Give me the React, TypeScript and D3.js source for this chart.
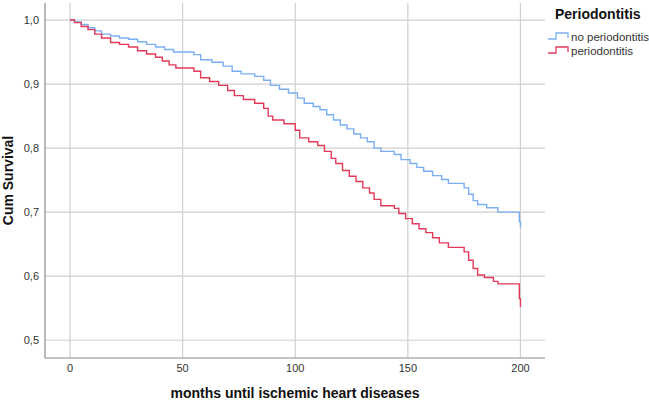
import React from "react";
import * as d3 from "d3";

// Kaplan-Meier steps (time in months, cum survival)
const noPerioTime = [0, 2, 5, 8, 11, 14, 18, 22, 26, 30, 34, 38, 42, 46, 55, 58, 63, 68, 72, 76, 82, 86, 89, 93, 97, 101, 104, 108, 111, 114, 117, 120, 123, 126, 129, 132, 135, 138, 144, 147, 151, 154, 157, 161, 165, 168, 175, 177, 179, 181, 185, 190, 199.5, 200];
const noPerioSurv = [1.0, 0.997, 0.993, 0.988, 0.983, 0.978, 0.975, 0.972, 0.97, 0.966, 0.962, 0.958, 0.954, 0.95, 0.946, 0.938, 0.934, 0.928, 0.92, 0.916, 0.912, 0.906, 0.898, 0.892, 0.886, 0.878, 0.87, 0.865, 0.86, 0.852, 0.844, 0.836, 0.83, 0.822, 0.816, 0.81, 0.8, 0.795, 0.79, 0.782, 0.776, 0.77, 0.764, 0.757, 0.751, 0.745, 0.738, 0.728, 0.718, 0.712, 0.707, 0.7, 0.685, 0.676];

const perioTime = [0, 2, 5, 8, 11, 14, 18, 22, 26, 30, 34, 38, 41, 44, 47, 55, 58, 62, 66, 70, 73, 77, 82, 86, 88, 90, 95, 100, 102, 106, 110, 113, 116, 118, 121, 124, 127, 130, 133, 135, 138, 144, 146, 149, 152, 155, 158, 161, 164, 168, 175, 177, 179, 181, 184, 188, 190, 199.5, 200];
const perioSurv = [1.0, 0.996, 0.99, 0.985, 0.978, 0.972, 0.965, 0.962, 0.958, 0.952, 0.947, 0.942, 0.936, 0.93, 0.925, 0.92, 0.91, 0.904, 0.898, 0.89, 0.882, 0.876, 0.87, 0.862, 0.85, 0.844, 0.838, 0.828, 0.816, 0.81, 0.804, 0.795, 0.784, 0.776, 0.765, 0.756, 0.748, 0.738, 0.73, 0.72, 0.71, 0.706, 0.698, 0.69, 0.682, 0.674, 0.668, 0.66, 0.652, 0.645, 0.638, 0.625, 0.612, 0.602, 0.598, 0.592, 0.588, 0.565, 0.552];

const xTicks = [0, 50, 100, 150, 200];
const yTicks = [0.5, 0.6, 0.7, 0.8, 0.9, 1.0];

const seriesNames = ["no periodontitis", "periodontitis"];
const seriesColors = ["#7aaef0", "#e43a5a"];

const font = "'Liberation Sans', Arial, sans-serif";

export default function App() {
  const width = 649;
  const height = 402;
  const left = 45, right = 545, top = 3, bottom = 358;

  const x = d3.scaleLinear().domain([-11.1, 210.9]).range([left, right]);
  const y = d3.scaleLinear().domain([0.4723, 1.0266]).range([bottom, top]);

  const line = d3.line<[number, number]>()
    .x(d => x(d[0]))
    .y(d => y(d[1]))
    .curve(d3.curveStepAfter);

  const series = [
    noPerioTime.map((t, i) => [t, noPerioSurv[i]] as [number, number]),
    perioTime.map((t, i) => [t, perioSurv[i]] as [number, number]),
  ];

  return (
    <svg width={width} height={height} style={{ position: "absolute", left: 0, top: 0 }} fontFamily={font}>
      <rect width={width} height={height} fill="#fff" />
      {/* grid */}
      {xTicks.map(t => (
        <line key={"gx" + t} x1={x(t)} x2={x(t)} y1={top} y2={bottom} stroke="#cfcfcf" strokeWidth={1.2} />
      ))}
      {yTicks.map(t => (
        <line key={"gy" + t} x1={left} x2={right} y1={y(t)} y2={y(t)} stroke="#cfcfcf" strokeWidth={1.2} />
      ))}
      {/* axes */}
      <line x1={left} x2={left} y1={top} y2={bottom} stroke="#8a8a8a" strokeWidth={1.2} />
      <line x1={left} x2={right} y1={bottom} y2={bottom} stroke="#8a8a8a" strokeWidth={1.2} />
      {xTicks.map(t => (
        <text key={"tx" + t} x={x(t)} y={bottom + 14} textAnchor="middle" fontSize={11} fill="#333">{t}</text>
      ))}
      {yTicks.map(t => (
        <text key={"ty" + t} x={left - 6} y={y(t) + 4} textAnchor="end" fontSize={11} fill="#333">
          {t.toFixed(1).replace(".", ",")}
        </text>
      ))}
      {/* curves */}
      {series.map((s, i) => (
        <path key={"s" + i} d={line(s) || ""} fill="none" stroke={seriesColors[i]} strokeWidth={1.4} />
      ))}
      {/* axis titles */}
      <text x={295} y={398} textAnchor="middle" fontSize={14} fontWeight="bold" fill="#111">
        months until ischemic heart diseases
      </text>
      <text transform={`translate(13,${(top + bottom) / 2}) rotate(-90)`} textAnchor="middle" fontSize={14} fontWeight="bold" fill="#111">
        Cum Survival
      </text>
      {/* legend */}
      <text x={555} y={19} fontSize={14} fontWeight="bold" fill="#111">Periodontitis</text>
      {seriesNames.map((n, i) => {
        const ly = 39 + i * 14;
        return (
          <g key={"lg" + i}>
            <path d={`M548,${ly}H556V${ly - 6}H568V${ly - 1}`} fill="none" stroke={seriesColors[i]} strokeWidth={1.3} />
            <text x={571} y={ly + 2} fontSize={11.5} fill="#333">{n}</text>
          </g>
        );
      })}
    </svg>
  );
}
